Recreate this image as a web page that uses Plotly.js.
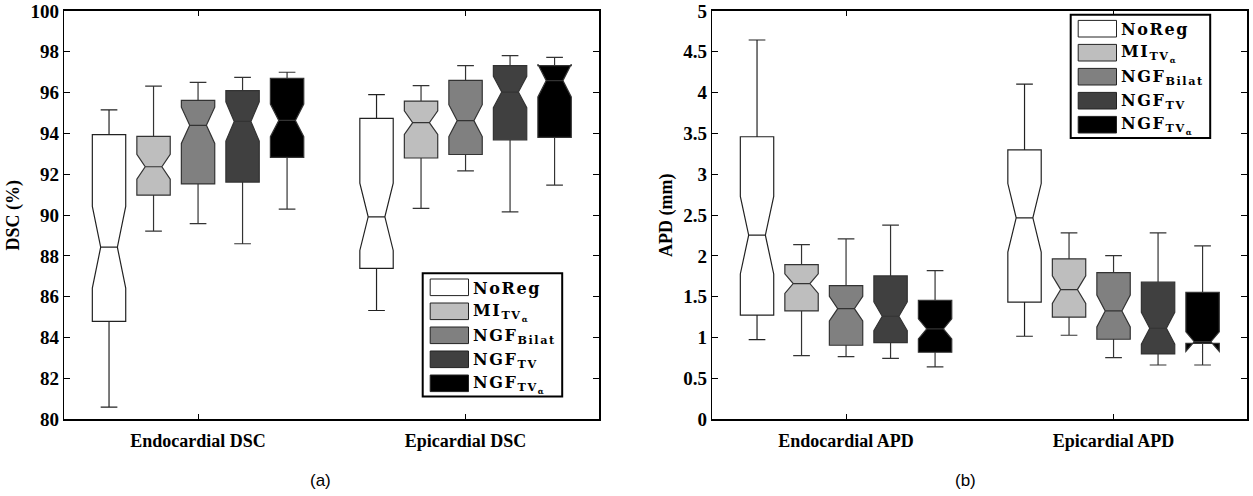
<!DOCTYPE html>
<html>
<head>
<meta charset="utf-8">
<script src="https://cdn.plot.ly/plotly-3.0.1.min.js"></script>
<style>html,body{margin:0;padding:0;background:#fff;}#chart{width:1253px;height:496px;}</style>
</head>
<body>
<div id="chart"></div>
<script>
// ---------- data ----------
const methodNames = ['NoReg', 'MI<sub>TV<sub>α</sub></sub>', 'NGF<sub>Bilat</sub>', 'NGF<sub>TV</sub>', 'NGF<sub>TV<sub>α</sub></sub>'];
const methodColors = ['#ffffff', '#bebebe', '#808080', '#404040', '#000000'];
const dscCategories = ['Endocardial DSC', 'Epicardial DSC'];
const apdCategories = ['Endocardial APD', 'Epicardial APD'];

// DSC (%) — [endocardial, epicardial]
const dscLower  = [[80.6, 85.33], [89.22, 90.33], [89.58, 92.17], [88.6, 90.16], [90.3, 91.47]];
const dscQ1     = [[84.8, 87.39], [90.98, 92.8],  [91.53, 92.97], [91.62, 93.69], [92.83, 93.81]];
const dscMedian = [[88.43, 89.92], [92.37, 94.53], [94.4, 94.63], [94.59, 96.03], [94.64, 96.59]];
const dscQ3     = [[93.94, 94.74], [93.86, 95.59], [95.62, 96.6], [96.1, 97.32], [96.7, 97.32]];
const dscUpper  = [[95.16, 95.9],  [96.32, 96.34], [96.5, 97.32], [96.75, 97.81], [97.0, 97.73]];
const dscNotch  = [[2.0, 1.65], [0.61, 0.58], [0.89, 0.78], [0.96, 0.77], [0.8, 0.8]];

// APD (mm) — [endocardial, epicardial]
const apdLower  = [[0.976, 1.017], [0.78, 1.029], [0.767, 0.755], [0.747, 0.665], [0.641, 0.665]];
const apdQ1     = [[1.275, 1.434], [1.327, 1.25], [0.907, 0.98], [0.939, 0.8], [0.821, 0.93]];
const apdMedian = [[2.255, 2.467], [1.662, 1.588], [1.355, 1.327], [1.262, 1.115], [1.107, 0.951]];
const apdQ3     = [[3.46, 3.30], [1.895, 1.965], [1.637, 1.797], [1.756, 1.679], [1.458, 1.556]];
const apdUpper  = [[4.645, 4.105], [2.14, 2.283], [2.21, 2.005], [2.377, 2.283], [1.821, 2.124]];
const apdNotch  = [[0.475, 0.42], [0.12, 0.17], [0.15, 0.195], [0.175, 0.195], [0.123, 0.12]];

// ---------- traces ----------
const traces = [];
function addBoxes(cats, lo, q1, med, q3, up, notch, xa, ya, grp) {
  for (let i = 0; i < methodNames.length; i++) {
    traces.push({
      type: 'box', x: cats, xaxis: xa, yaxis: ya,
      alignmentgroup: grp, offsetgroup: grp + i,
      lowerfence: lo[i], q1: q1[i], median: med[i], q3: q3[i], upperfence: up[i],
      notchspan: notch[i], notched: true, notchwidth: 0.25,
      boxpoints: false, whiskerwidth: 0.5,
      fillcolor: methodColors[i],
      line: {color: i === 0 ? '#222222' : '#333333', width: 1.2},
      name: methodNames[i], showlegend: false, hoverinfo: 'skip'
    });
  }
}
addBoxes(dscCategories, dscLower, dscQ1, dscMedian, dscQ3, dscUpper, dscNotch, 'x', 'y', 'dsc');
addBoxes(apdCategories, apdLower, apdQ1, apdMedian, apdQ3, apdUpper, apdNotch, 'x2', 'y2', 'apd');

// ---------- layout ----------
const serif = 'Liberation Serif, Times New Roman, serif';
const W = 1253, H = 496;
const dom1 = [64.3 / W, 599.3 / W], dom2 = [712.3 / W, 1247.3 / W];
const domY = [1 - 419.3 / H, 1 - 11 / H];
const PW = 535, PH = 408.3;

function xAxis(domain, anchor) {
  return {domain: domain, anchor: anchor, type: 'category', range: [-0.5, 1.5],
    showline: true, linecolor: '#000', linewidth: 1.6, mirror: 'ticks',
    ticks: 'inside', ticklen: 5, tickwidth: 1, tickcolor: '#000', ticklabelstandoff: 4,
    tickfont: {family: serif, size: 18, color: '#000', weight: 'bold'},
    showgrid: false, zeroline: false, fixedrange: true};
}
function yAxis(anchor, range, dtick, title) {
  return {domain: domY, anchor: anchor, range: range, dtick: dtick,
    showline: true, linecolor: '#000', linewidth: 1.6, mirror: 'ticks',
    ticks: 'inside', ticklen: 6, tickwidth: 1, tickcolor: '#000',
    tickfont: {family: serif, size: 19, color: '#000', weight: 'bold'},
    title: {text: title, font: {family: serif, size: 18, color: '#000', weight: 'bold'}, standoff: 6},
    showgrid: false, zeroline: false, fixedrange: true};
}

const shapes = [], annotations = [];
function spaced(t) {
  return '<span style="letter-spacing:1.6px">' + t + '</span>';
}
function buildLegend(xr, yr, leftPx, topPx) {
  const fx = px => (leftPx + px) / PW;
  const fy = px => 1 - (topPx + px) / PH;
  shapes.push({type: 'rect', xref: xr, yref: yr, x0: fx(0), x1: fx(139.5), y0: fy(123.2), y1: fy(0),
    line: {color: '#000', width: 2}, fillcolor: '#fff', layer: 'above'});
  for (let i = 0; i < methodNames.length; i++) {
    const cy = 14 + 24 * i;
    shapes.push({type: 'rect', xref: xr, yref: yr, x0: fx(7.5), x1: fx(45.8), y0: fy(cy + 8.3), y1: fy(cy - 8.3),
      line: {color: '#222', width: 1}, fillcolor: methodColors[i], layer: 'above'});
    annotations.push({xref: xr, yref: yr, x: fx(48), y: fy(cy + 1), xanchor: 'left', yanchor: 'middle',
      text: spaced(methodNames[i]), showarrow: false,
      font: {family: "'DejaVu Serif', 'Liberation Serif', serif", size: 16, color: '#000', weight: 'bold'}});
  }
}
buildLegend('x domain', 'y domain', 358.4, 262.3);
buildLegend('x2 domain', 'y2 domain', 358.4, 3.7);

annotations.push({xref: 'paper', yref: 'paper', x: 320 / W, y: 1 - 480 / H, text: '(a)', showarrow: false,
  xanchor: 'center', yanchor: 'middle', font: {family: 'Liberation Sans, Arial, sans-serif', size: 17, color: '#000'}});
annotations.push({xref: 'paper', yref: 'paper', x: 965.5 / W, y: 1 - 480 / H, text: '(b)', showarrow: false,
  xanchor: 'center', yanchor: 'middle', font: {family: 'Liberation Sans, Arial, sans-serif', size: 17, color: '#000'}});

const layout = {
  width: W, height: H, margin: {l: 0, r: 0, t: 0, b: 0},
  paper_bgcolor: '#fff', plot_bgcolor: '#fff',
  boxmode: 'group', boxgap: 0.168, boxgroupgap: 0.25,
  showlegend: false,
  xaxis: xAxis(dom1, 'y'), yaxis: yAxis('x', [80, 100], 2, 'DSC (%)'),
  xaxis2: xAxis(dom2, 'y2'), yaxis2: yAxis('x2', [0, 5], 0.5, 'APD (mm)'),
  shapes: shapes, annotations: annotations
};

Plotly.newPlot('chart', traces, layout, {staticPlot: true, displayModeBar: false});
</script>
</body>
</html>
